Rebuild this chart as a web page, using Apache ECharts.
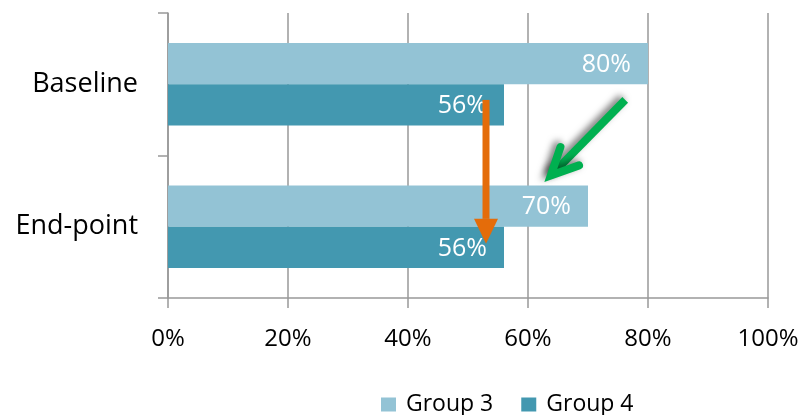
<!DOCTYPE html>
<html><head><meta charset="utf-8">
<script src="https://cdn.jsdelivr.net/npm/echarts@6/dist/echarts.min.js"></script>
<style>html,body{margin:0;padding:0;background:#fff}#c{width:803px;height:415px}</style>
</head><body><div id="c"></div>
<script>
const categories = ['Baseline', 'End-point'];
const seriesNames = ['Group 3', 'Group 4'];
const group3 = [80, 70];
const group4 = [56, 56];
const xTicks = [0, 20, 40, 60, 80, 100];
// annotation arrows: [xValue, position between category centres] start/end
const orangeArrow = [[53, 0.11], [53, 1.12]];
const greenArrow = [[76.2, 0.11], [63.8, 0.64]];

const FONT = 'Open Sans';
const chart = echarts.init(document.getElementById('c'));
const labelCfg = {
  show: true, position: 'insideRight', distance: 17, color: '#fff', offset: [0, 1],
  fontFamily: FONT, fontSize: 25, formatter: p => p.value + '%'
};
chart.setOption({
  animation: false,
  textStyle: { fontFamily: FONT },
  grid: { left: 168, right: 35, top: 13, bottom: 117, containLabel: false },
  legend: {
    data: seriesNames, left: 376, top: 388, itemWidth: 15, itemHeight: 14,
    itemGap: 28, icon: 'rect',
    textStyle: { fontFamily: FONT, fontSize: 23, color: '#000', padding: [0, 0, 0, 5] }
  },
  xAxis: {
    type: 'value', min: xTicks[0], max: xTicks[xTicks.length - 1], interval: 20,
    axisLine: { show: true, lineStyle: { color: '#999', width: 1.5 } },
    axisTick: { show: true, length: 10, lineStyle: { color: '#999', width: 1.5 } },
    splitLine: { show: true, lineStyle: { color: '#999', width: 1.5 } },
    axisLabel: { formatter: v => v + '%', fontFamily: FONT, fontSize: 24, color: '#000', margin: 29 }
  },
  yAxis: {
    type: 'category', data: categories, inverse: true,
    axisLine: { show: true, lineStyle: { color: '#999', width: 1.5 } },
    axisTick: { show: true, length: 10, lineStyle: { color: '#999', width: 1.5 } },
    axisLabel: { fontFamily: FONT, fontSize: 27, color: '#000', margin: 30, padding: [8, 0, 0, 0] }
  },
  series: [
    { name: seriesNames[0], type: 'bar', data: group3, barGap: '0%', barCategoryGap: '42%',
      itemStyle: { color: '#93C3D5' }, label: labelCfg },
    { name: seriesNames[1], type: 'bar', data: group4, barGap: '0%', barCategoryGap: '42%',
      itemStyle: { color: '#4398B0' }, label: labelCfg }
  ]
});

function toPx(pt) {
  const a = chart.convertToPixel({ gridIndex: 0 }, [pt[0], categories[0]]);
  const b = chart.convertToPixel({ gridIndex: 0 }, [pt[0], categories[1]]);
  return [a[0], a[1] + (b[1] - a[1]) * pt[1]];
}
const o1 = toPx(orangeArrow[0]), o2 = toPx(orangeArrow[1]);
const g1 = toPx(greenArrow[0]), g2 = toPx(greenArrow[1]);

// orange: filled triangle head
const oHead = 25;
const oAng = Math.atan2(o2[1] - o1[1], o2[0] - o1[0]);
const oBase = [o2[0] - oHead * Math.cos(oAng), o2[1] - oHead * Math.sin(oAng)];
const px = -Math.sin(oAng), py = Math.cos(oAng);
// green: open chevron head
const gAng = Math.atan2(g2[1] - g1[1], g2[0] - g1[0]);
const gLen = 30, spread = 0.45;
const gh1 = [g2[0] - gLen * Math.cos(gAng - spread), g2[1] - gLen * Math.sin(gAng - spread)];
const gh2 = [g2[0] - gLen * Math.cos(gAng + spread), g2[1] - gLen * Math.sin(gAng + spread)];
const shadow = { shadowBlur: 7, shadowColor: 'rgba(0,0,0,0.55)', shadowOffsetX: -3, shadowOffsetY: -2 };

chart.setOption({
  graphic: [
    { type: 'polyline', z: 100, shape: { points: [g1, g2] },
      style: Object.assign({ stroke: '#00B050', lineWidth: 8, lineCap: 'butt', fill: null }, shadow) },
    { type: 'polyline', z: 100, shape: { points: [gh1, g2, gh2] },
      style: Object.assign({ stroke: '#00B050', lineWidth: 8, lineCap: 'round', lineJoin: 'miter', fill: null }, shadow) },
    { type: 'line', z: 100, shape: { x1: o1[0], y1: o1[1], x2: oBase[0], y2: oBase[1] },
      style: { stroke: '#E46C0A', lineWidth: 7 } },
    { type: 'polygon', z: 100, shape: { points: [
        [oBase[0] + px * 12, oBase[1] + py * 12], o2, [oBase[0] - px * 12, oBase[1] - py * 12]] },
      style: { fill: '#E46C0A' } }
  ]
});
</script></body></html>
